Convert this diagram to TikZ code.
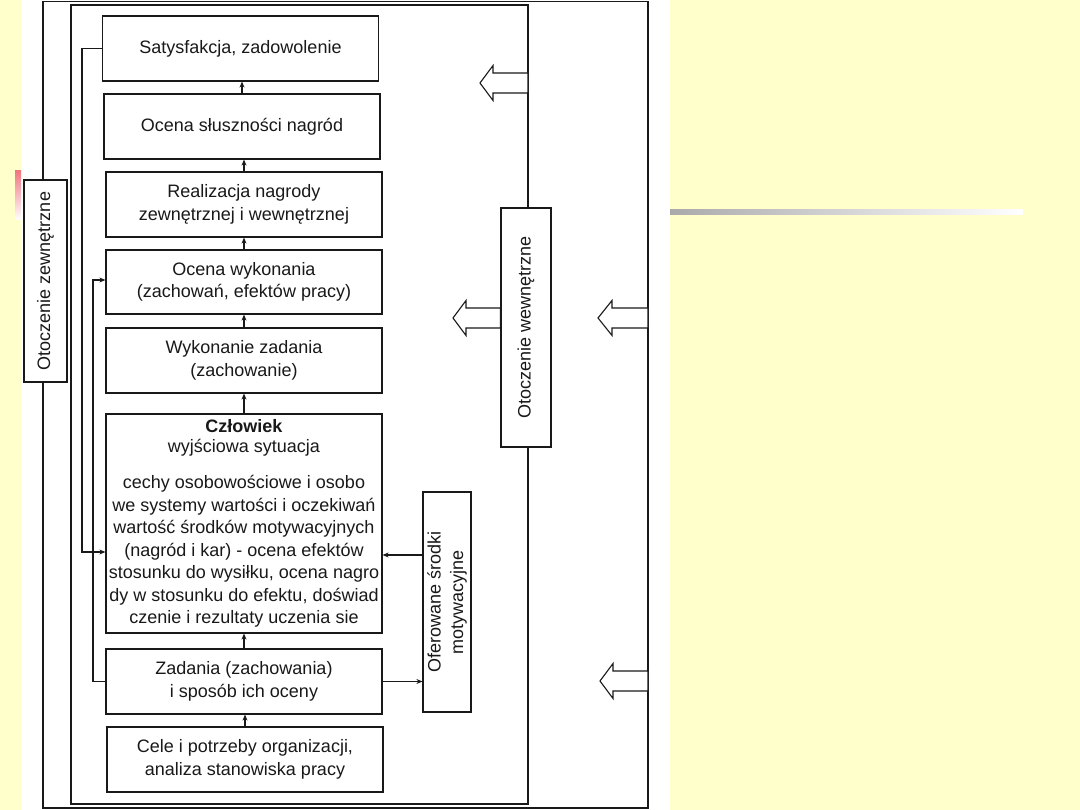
\documentclass[tikz,border=0pt]{standalone}
\usepackage{fontspec}
\setmainfont{Liberation Sans}
\usetikzlibrary{arrows.meta}
\definecolor{bgyellow}{RGB}{255,255,204}
\definecolor{pinkbar}{RGB}{240,120,130}
\definecolor{graybar}{RGB}{170,170,170}
\definecolor{inkc}{RGB}{25,25,25}
\newcommand\fs{\fontsize{18}{22.5}\selectfont}
\begin{document}
\begin{tikzpicture}[x=1pt,y=-1pt,line width=1.2pt,
  box/.style={draw=inkc, fill=white, inner sep=2pt, align=center, font=\fs, text=inkc,
              minimum width=276pt, minimum height=65pt},
  vbox/.style={draw=inkc, fill=white, inner sep=2pt, align=center, font=\fs, text=inkc, rotate=90},
  arr/.style={draw=inkc, line width=1.2pt, -{Stealth[length=6pt,width=5pt]}},
  frame/.style={draw=inkc, line width=1.2pt},
  blk/.style={draw=inkc, fill=white, line width=1.1pt, line join=miter}]
\useasboundingbox (0,0) rectangle (1080,810);
% background
\fill[bgyellow] (0,0) rectangle (1080,810);
\fill[white] (21,0) rectangle (670,810);
\shade[top color=pinkbar, bottom color=white] (15,171) rectangle (21,220);
\shade[left color=graybar, right color=white] (670,210) rectangle (1023,215);
% frames
\draw[frame] (43,1.5) rectangle (648,808);
\draw[frame] (71,5) rectangle (528,804);
% environment boxes
\node[vbox, minimum width=202pt, minimum height=43pt] (oz) at (45.5,281) {Otoczenie zewnętrzne};
\node[vbox, minimum width=239pt, minimum height=50pt] (ow) at (526,327.5) {Otoczenie wewnętrzne};
% main column
\node[box] (sat) at (240.5,48.5) {Satysfakcja, zadowolenie};
\node[box] (ocs) at (242,126.5) {Ocena słuszności nagród};
\node[box] (real) at (244,204.5) {Realizacja nagrody\\zewnętrznej i wewnętrznej};
\node[box, minimum height=64pt] (ocw) at (244,282) {Ocena wykonania\\(zachowań, efektów pracy)};
\node[box] (wyk) at (244,360.5) {Wykonanie zadania\\(zachowanie)};
\node[box, minimum height=219pt] (czl) at (244,523.5) {\textbf{Człowiek}\\[-3pt]wyjściowa sytuacja\\[14pt]cechy osobowościowe i osobo\\we systemy wartości i oczekiwań\\wartość środków motywacyjnych\\(nagród i kar) - ocena efektów\\stosunku do wysiłku, ocena nagro\\dy w stosunku do efektu, doświad\\czenie i rezultaty uczenia sie};
\node[box] (zad) at (244,681.5) {Zadania (zachowania)\\i sposób ich oceny};
\node[box] (cele) at (245,759.5) {Cele i potrzeby organizacji,\\analiza stanowiska pracy};
\node[vbox, minimum width=220pt, minimum height=48pt] (ofr) at (447,602) {Oferowane środki\\motywacyjne};
% vertical connectors (upward)
\draw[arr] (ocs.north) -- (ocs.north |- sat.south);
\draw[arr] (real.north) -- (real.north |- ocs.south);
\draw[arr] (ocw.north) -- (ocw.north |- real.south);
\draw[arr] (wyk.north) -- (wyk.north |- ocw.south);
\draw[arr] (czl.north) -- (czl.north |- wyk.south);
\draw[arr] (zad.north) -- (zad.north |- czl.south);
\draw[arr] (cele.north) -- (cele.north |- zad.south);
% feedback loops
\coordinate (fb1) at (82,552);
\coordinate (fb2) at (93,280);
\draw[arr] (sat.west) -| (fb1) -- (fb1 -| czl.west);
\draw[arr] (zad.west) -| (fb2) -- (fb2 -| ocw.west);
% offered motivators
\coordinate (y1) at (0,555);
\draw[arr] (ofr.north |- y1) -- (czl.east |- y1);
\draw[arr] (zad.east) -- (zad.east -| ofr.north);
% block arrows
\draw[blk] (480,83) -- (493,65.5) -- (493,73) -- (528,73) -- (528,93) -- (493,93) -- (493,100.5) -- cycle;
\draw[blk] (453,318) -- (466,300.5) -- (466,308) -- (ow.north |- 0,308) -- (ow.north |- 0,328) -- (466,328) -- (466,335.5) -- cycle;
\draw[blk] (598,318) -- (612,300.5) -- (612,308) -- (648,308) -- (648,328) -- (612,328) -- (612,335.5) -- cycle;
\draw[blk] (600,681) -- (613,663.5) -- (613,671) -- (648,671) -- (648,691) -- (613,691) -- (613,698.5) -- cycle;
\end{tikzpicture}
\end{document}
